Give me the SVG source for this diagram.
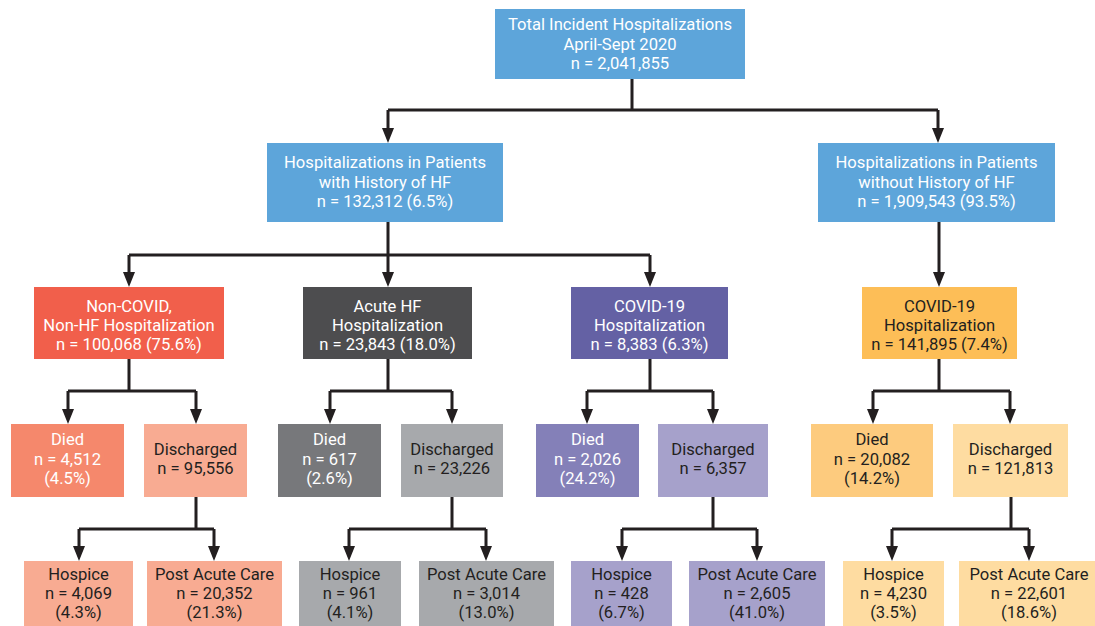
<svg xmlns="http://www.w3.org/2000/svg" width="1095" height="626" viewBox="0 0 1095 626">
<style>
text{font-family:Roboto,"Liberation Sans",sans-serif;font-size:16.6px;text-anchor:middle}
.w{fill:#ffffff}.d{fill:#231f20}
.c{fill:none;stroke:#231f20;stroke-width:3}
.a{fill:#231f20}
</style>
<rect width="1095" height="626" fill="#ffffff"/>
<g id="connectors">
<path class="c" d="M632,79 V110 M388,110 H938"/>
<path class="c" d="M388,110 V128"/><path class="a" d="M382,128 L394,128 L388,143 Z"/>
<path class="c" d="M938,110 V128"/><path class="a" d="M932,128 L944,128 L938,143 Z"/>
<path class="c" d="M388,222 V255 M129,255 H650"/>
<path class="c" d="M129,255 V272"/><path class="a" d="M123,272 L135,272 L129,287 Z"/>
<path class="c" d="M388,255 V272"/><path class="a" d="M382,272 L394,272 L388,287 Z"/>
<path class="c" d="M650,255 V272"/><path class="a" d="M644,272 L656,272 L650,287 Z"/>
<path class="c" d="M939,222 V272"/><path class="a" d="M933,272 L945,272 L939,287 Z"/>
<path class="c" d="M129,359 V391 M68,391 H196 M68,391 V409 M196,391 V409"/>
<path class="a" d="M62,409 L74,409 L68,424 Z M190,409 L202,409 L196,424 Z"/>
<path class="c" d="M388,359 V391 M330,391 H452 M330,391 V409 M452,391 V409"/>
<path class="a" d="M324,409 L336,409 L330,424 Z M446,409 L458,409 L452,424 Z"/>
<path class="c" d="M650,359 V391 M587,391 H713 M587,391 V409 M713,391 V409"/>
<path class="a" d="M581,409 L593,409 L587,424 Z M707,409 L719,409 L713,424 Z"/>
<path class="c" d="M939,359 V391 M873,391 H1010 M873,391 V409 M1010,391 V409"/>
<path class="a" d="M867,409 L879,409 L873,424 Z M1004,409 L1016,409 L1010,424 Z"/>
<path class="c" d="M196,497 V529 M79,529 H214 M79,529 V546 M214,529 V546"/>
<path class="a" d="M73,546 L85,546 L79,561 Z M208,546 L220,546 L214,561 Z"/>
<path class="c" d="M452,497 V529 M349,529 H486 M349,529 V546 M486,529 V546"/>
<path class="a" d="M343,546 L355,546 L349,561 Z M480,546 L492,546 L486,561 Z"/>
<path class="c" d="M713,497 V529 M622,529 H757 M622,529 V546 M757,529 V546"/>
<path class="a" d="M616,546 L628,546 L622,561 Z M751,546 L763,546 L757,561 Z"/>
<path class="c" d="M1011,497 V529 M892,529 H1029 M892,529 V546 M1029,529 V546"/>
<path class="a" d="M886,546 L898,546 L892,561 Z M1023,546 L1035,546 L1029,561 Z"/>
</g>
<g id="total"><rect x="495" y="9" width="250" height="70" fill="#5da5da"/>
<text class="w" x="620" y="30">Total Incident Hospitalizations</text><text class="w" x="620" y="49.5">April-Sept 2020</text><text class="w" x="620" y="68.5">n = 2,041,855</text></g>
<g id="withHF"><rect x="267" y="143" width="236" height="79" fill="#5da5da"/>
<text class="w" x="385" y="168">Hospitalizations in Patients</text><text class="w" x="385" y="187.5">with History of HF</text><text class="w" x="385" y="206.5">n = 132,312 (6.5%)</text></g>
<g id="withoutHF"><rect x="818" y="143" width="237" height="79" fill="#5da5da"/>
<text class="w" x="936.5" y="168">Hospitalizations in Patients</text><text class="w" x="936.5" y="187.5">without History of HF</text><text class="w" x="936.5" y="206.5">n = 1,909,543 (93.5%)</text></g>
<g id="noncovid"><rect x="34" y="287" width="190" height="72" fill="#f15f4b"/>
<text class="w" x="129" y="311.5">Non-COVID,</text><text class="w" x="129" y="331">Non-HF Hospitalization</text><text class="w" x="129" y="350">n = 100,068 (75.6%)</text></g>
<g id="acuteHF"><rect x="303" y="287" width="169" height="72" fill="#4d4d4f"/>
<text class="w" x="387.5" y="311.5">Acute HF</text><text class="w" x="387.5" y="331">Hospitalization</text><text class="w" x="387.5" y="350">n = 23,843 (18.0%)</text></g>
<g id="covidHF"><rect x="571" y="287" width="157" height="72" fill="#6461a4"/>
<text class="w" x="649.5" y="311.5">COVID-19</text><text class="w" x="649.5" y="331">Hospitalization</text><text class="w" x="649.5" y="350">n = 8,383 (6.3%)</text></g>
<g id="covidNoHF"><rect x="862" y="287" width="155" height="72" fill="#fdbe57"/>
<text class="d" x="939.5" y="311.5">COVID-19</text><text class="d" x="939.5" y="331">Hospitalization</text><text class="d" x="939.5" y="350">n = 141,895 (7.4%)</text></g>
<g id="died1"><rect x="11" y="424" width="113" height="73" fill="#f5886c"/>
<text class="w" x="67.5" y="445">Died</text><text class="w" x="67.5" y="464.5">n = 4,512</text><text class="w" x="67.5" y="483.5">(4.5%)</text></g>
<g id="disc1"><rect x="144" y="424" width="103" height="73" fill="#f8ab92"/>
<text class="d" x="195.5" y="455">Discharged</text><text class="d" x="195.5" y="474">n = 95,556</text></g>
<g id="died2"><rect x="278" y="424" width="103" height="73" fill="#77787b"/>
<text class="w" x="329.5" y="445">Died</text><text class="w" x="329.5" y="464.5">n = 617</text><text class="w" x="329.5" y="483.5">(2.6%)</text></g>
<g id="disc2"><rect x="401" y="424" width="102" height="73" fill="#a7a9ac"/>
<text class="d" x="452" y="455">Discharged</text><text class="d" x="452" y="474">n = 23,226</text></g>
<g id="died3"><rect x="536" y="424" width="103" height="73" fill="#8480b8"/>
<text class="w" x="587.5" y="445">Died</text><text class="w" x="587.5" y="464.5">n = 2,026</text><text class="w" x="587.5" y="483.5">(24.2%)</text></g>
<g id="disc3"><rect x="658" y="424" width="110" height="73" fill="#a6a1cb"/>
<text class="d" x="713" y="455">Discharged</text><text class="d" x="713" y="474">n = 6,357</text></g>
<g id="died4"><rect x="811" y="424" width="122" height="73" fill="#fdcb7e"/>
<text class="d" x="872" y="445">Died</text><text class="d" x="872" y="464.5">n = 20,082</text><text class="d" x="872" y="483.5">(14.2%)</text></g>
<g id="disc4"><rect x="953" y="424" width="115" height="73" fill="#fedca1"/>
<text class="d" x="1010.5" y="455">Discharged</text><text class="d" x="1010.5" y="474">n = 121,813</text></g>
<g id="hosp1"><rect x="24" y="561" width="109" height="65" fill="#f8ab92"/>
<text class="d" x="78.5" y="580">Hospice</text><text class="d" x="78.5" y="599">n = 4,069</text><text class="d" x="78.5" y="618">(4.3%)</text></g>
<g id="pac1"><rect x="147" y="561" width="135" height="65" fill="#f8ab92"/>
<text class="d" x="214.5" y="580">Post Acute Care</text><text class="d" x="214.5" y="599">n = 20,352</text><text class="d" x="214.5" y="618">(21.3%)</text></g>
<g id="hosp2"><rect x="299" y="561" width="102" height="65" fill="#a7a9ac"/>
<text class="d" x="350" y="580">Hospice</text><text class="d" x="350" y="599">n = 961</text><text class="d" x="350" y="618">(4.1%)</text></g>
<g id="pac2"><rect x="419" y="561" width="135" height="65" fill="#a7a9ac"/>
<text class="d" x="486.5" y="580">Post Acute Care</text><text class="d" x="486.5" y="599">n = 3,014</text><text class="d" x="486.5" y="618">(13.0%)</text></g>
<g id="hosp3"><rect x="571" y="561" width="101" height="65" fill="#a6a1cb"/>
<text class="d" x="621.5" y="580">Hospice</text><text class="d" x="621.5" y="599">n = 428</text><text class="d" x="621.5" y="618">(6.7%)</text></g>
<g id="pac3"><rect x="689" y="561" width="136" height="65" fill="#a6a1cb"/>
<text class="d" x="757" y="580">Post Acute Care</text><text class="d" x="757" y="599">n = 2,605</text><text class="d" x="757" y="618">(41.0%)</text></g>
<g id="hosp4"><rect x="843" y="561" width="101" height="65" fill="#fedca1"/>
<text class="d" x="893.5" y="580">Hospice</text><text class="d" x="893.5" y="599">n = 4,230</text><text class="d" x="893.5" y="618">(3.5%)</text></g>
<g id="pac4"><rect x="959" y="561" width="136" height="65" fill="#fedca1"/>
<text class="d" x="1029" y="580">Post Acute Care</text><text class="d" x="1029" y="599">n = 22,601</text><text class="d" x="1029" y="618">(18.6%)</text></g>
</svg>
